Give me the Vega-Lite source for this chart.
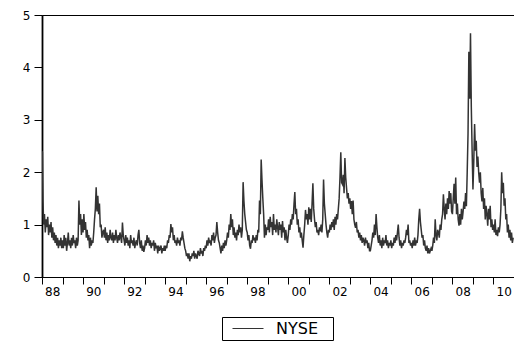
{
  "$schema": "https://vega.github.io/schema/vega-lite/v6.json",
  "width": 472,
  "height": 262,
  "autosize": "none",
  "padding": {"left": 42, "top": 15, "right": 0, "bottom": 65},
  "background": "white",
  "config": {
    "view": {"stroke": "black", "strokeWidth": 1},
    "font": "DejaVu Sans"
  },
  "data": {
    "values": [
      {"t":1988.00,"v":2.4},{"t":1988.02,"v":2.38},{"t":1988.05,"v":1.45},{"t":1988.08,"v":1.0},{"t":1988.12,"v":1.2},{"t":1988.16,"v":0.85},{"t":1988.20,"v":1.1},{"t":1988.24,"v":0.95},{"t":1988.28,"v":1.15},{"t":1988.32,"v":0.8},{"t":1988.36,"v":1.0},{"t":1988.40,"v":0.85},{"t":1988.44,"v":1.05},{"t":1988.48,"v":0.75},{"t":1988.52,"v":0.95},{"t":1988.56,"v":0.7},{"t":1988.60,"v":0.85},{"t":1988.64,"v":0.65},{"t":1988.68,"v":0.8},{"t":1988.72,"v":0.6},{"t":1988.76,"v":0.75},{"t":1988.80,"v":0.55},{"t":1988.84,"v":0.7},{"t":1988.88,"v":0.6},{"t":1988.92,"v":0.75},{"t":1988.96,"v":0.55},
      {"t":1989.00,"v":0.7},{"t":1989.04,"v":0.55},{"t":1989.08,"v":0.8},{"t":1989.12,"v":0.6},{"t":1989.16,"v":0.75},{"t":1989.20,"v":0.5},{"t":1989.24,"v":0.65},{"t":1989.28,"v":0.85},{"t":1989.32,"v":0.6},{"t":1989.36,"v":0.7},{"t":1989.40,"v":0.55},{"t":1989.44,"v":0.75},{"t":1989.48,"v":0.6},{"t":1989.52,"v":0.8},{"t":1989.56,"v":0.65},{"t":1989.60,"v":0.7},{"t":1989.64,"v":0.55},{"t":1989.68,"v":0.75},{"t":1989.72,"v":0.6},{"t":1989.76,"v":0.7},{"t":1989.80,"v":1.46},{"t":1989.84,"v":1.0},{"t":1989.88,"v":1.2},{"t":1989.92,"v":0.8},{"t":1989.96,"v":1.1},
      {"t":1990.00,"v":0.85},{"t":1990.04,"v":1.2},{"t":1990.08,"v":0.9},{"t":1990.12,"v":1.05},{"t":1990.16,"v":0.75},{"t":1990.20,"v":0.9},{"t":1990.24,"v":0.7},{"t":1990.28,"v":0.8},{"t":1990.32,"v":0.55},{"t":1990.36,"v":0.75},{"t":1990.40,"v":0.6},{"t":1990.44,"v":0.7},{"t":1990.48,"v":0.65},{"t":1990.52,"v":0.85},{"t":1990.56,"v":1.1},{"t":1990.60,"v":1.3},{"t":1990.64,"v":1.71},{"t":1990.68,"v":1.25},{"t":1990.72,"v":1.55},{"t":1990.76,"v":1.2},{"t":1990.80,"v":1.4},{"t":1990.84,"v":0.95},{"t":1990.88,"v":1.0},{"t":1990.92,"v":0.75},{"t":1990.96,"v":0.85},
      {"t":1991.00,"v":0.9},{"t":1991.04,"v":0.75},{"t":1991.08,"v":0.95},{"t":1991.12,"v":0.7},{"t":1991.16,"v":0.85},{"t":1991.20,"v":0.65},{"t":1991.24,"v":0.8},{"t":1991.28,"v":0.7},{"t":1991.32,"v":0.9},{"t":1991.36,"v":0.75},{"t":1991.40,"v":0.7},{"t":1991.44,"v":0.85},{"t":1991.48,"v":0.65},{"t":1991.52,"v":0.8},{"t":1991.56,"v":0.7},{"t":1991.60,"v":0.9},{"t":1991.64,"v":0.75},{"t":1991.68,"v":0.65},{"t":1991.72,"v":0.8},{"t":1991.76,"v":0.7},{"t":1991.80,"v":0.85},{"t":1991.84,"v":0.75},{"t":1991.88,"v":0.65},{"t":1991.92,"v":1.04},{"t":1991.96,"v":0.8},
      {"t":1992.00,"v":0.7},{"t":1992.04,"v":0.6},{"t":1992.08,"v":0.8},{"t":1992.12,"v":0.65},{"t":1992.16,"v":0.75},{"t":1992.20,"v":0.6},{"t":1992.24,"v":0.7},{"t":1992.28,"v":0.55},{"t":1992.32,"v":0.8},{"t":1992.36,"v":0.65},{"t":1992.40,"v":0.7},{"t":1992.44,"v":0.6},{"t":1992.48,"v":0.75},{"t":1992.52,"v":0.55},{"t":1992.56,"v":0.65},{"t":1992.60,"v":0.7},{"t":1992.64,"v":0.6},{"t":1992.68,"v":0.8},{"t":1992.72,"v":0.9},{"t":1992.76,"v":0.65},{"t":1992.80,"v":0.55},{"t":1992.84,"v":0.7},{"t":1992.88,"v":0.5},{"t":1992.92,"v":0.6},{"t":1992.96,"v":0.48},
      {"t":1993.00,"v":0.55},{"t":1993.04,"v":0.7},{"t":1993.08,"v":0.6},{"t":1993.12,"v":0.8},{"t":1993.16,"v":0.65},{"t":1993.20,"v":0.75},{"t":1993.24,"v":0.6},{"t":1993.28,"v":0.7},{"t":1993.32,"v":0.55},{"t":1993.36,"v":0.65},{"t":1993.40,"v":0.6},{"t":1993.44,"v":0.7},{"t":1993.48,"v":0.5},{"t":1993.52,"v":0.65},{"t":1993.56,"v":0.55},{"t":1993.60,"v":0.6},{"t":1993.64,"v":0.45},{"t":1993.68,"v":0.6},{"t":1993.72,"v":0.5},{"t":1993.76,"v":0.55},{"t":1993.80,"v":0.6},{"t":1993.84,"v":0.45},{"t":1993.88,"v":0.55},{"t":1993.92,"v":0.5},{"t":1993.96,"v":0.6},
      {"t":1994.00,"v":0.5},{"t":1994.04,"v":0.6},{"t":1994.08,"v":0.55},{"t":1994.12,"v":0.7},{"t":1994.16,"v":0.65},{"t":1994.20,"v":0.8},{"t":1994.24,"v":0.75},{"t":1994.28,"v":1.01},{"t":1994.32,"v":0.85},{"t":1994.36,"v":0.95},{"t":1994.40,"v":0.7},{"t":1994.44,"v":0.8},{"t":1994.48,"v":0.65},{"t":1994.52,"v":0.7},{"t":1994.56,"v":0.6},{"t":1994.60,"v":0.75},{"t":1994.64,"v":0.65},{"t":1994.68,"v":0.7},{"t":1994.72,"v":0.6},{"t":1994.76,"v":0.75},{"t":1994.80,"v":0.7},{"t":1994.84,"v":0.87},{"t":1994.88,"v":0.75},{"t":1994.92,"v":0.65},{"t":1994.96,"v":0.55},
      {"t":1995.00,"v":0.5},{"t":1995.04,"v":0.4},{"t":1995.08,"v":0.45},{"t":1995.12,"v":0.35},{"t":1995.16,"v":0.45},{"t":1995.20,"v":0.3},{"t":1995.24,"v":0.4},{"t":1995.28,"v":0.35},{"t":1995.32,"v":0.45},{"t":1995.36,"v":0.4},{"t":1995.40,"v":0.5},{"t":1995.44,"v":0.35},{"t":1995.48,"v":0.45},{"t":1995.52,"v":0.4},{"t":1995.56,"v":0.35},{"t":1995.60,"v":0.5},{"t":1995.64,"v":0.45},{"t":1995.68,"v":0.4},{"t":1995.72,"v":0.55},{"t":1995.76,"v":0.45},{"t":1995.80,"v":0.5},{"t":1995.84,"v":0.4},{"t":1995.88,"v":0.55},{"t":1995.92,"v":0.5},{"t":1995.96,"v":0.6},
      {"t":1996.00,"v":0.55},{"t":1996.04,"v":0.7},{"t":1996.08,"v":0.6},{"t":1996.12,"v":0.75},{"t":1996.16,"v":0.65},{"t":1996.20,"v":0.7},{"t":1996.24,"v":0.6},{"t":1996.28,"v":0.8},{"t":1996.32,"v":0.7},{"t":1996.36,"v":0.85},{"t":1996.40,"v":0.65},{"t":1996.44,"v":0.75},{"t":1996.48,"v":0.8},{"t":1996.52,"v":1.05},{"t":1996.56,"v":0.85},{"t":1996.60,"v":0.7},{"t":1996.64,"v":0.65},{"t":1996.68,"v":0.55},{"t":1996.72,"v":0.45},{"t":1996.76,"v":0.6},{"t":1996.80,"v":0.5},{"t":1996.84,"v":0.65},{"t":1996.88,"v":0.55},{"t":1996.92,"v":0.7},{"t":1996.96,"v":0.6},
      {"t":1997.00,"v":0.7},{"t":1997.04,"v":0.85},{"t":1997.08,"v":0.75},{"t":1997.12,"v":1.0},{"t":1997.16,"v":0.9},{"t":1997.20,"v":1.2},{"t":1997.24,"v":0.95},{"t":1997.28,"v":1.1},{"t":1997.32,"v":0.8},{"t":1997.36,"v":0.95},{"t":1997.40,"v":0.75},{"t":1997.44,"v":0.85},{"t":1997.48,"v":0.7},{"t":1997.52,"v":0.9},{"t":1997.56,"v":0.8},{"t":1997.60,"v":1.0},{"t":1997.64,"v":0.85},{"t":1997.68,"v":0.95},{"t":1997.72,"v":0.75},{"t":1997.76,"v":0.9},{"t":1997.80,"v":1.81},{"t":1997.84,"v":1.45},{"t":1997.88,"v":1.2},{"t":1997.92,"v":1.05},{"t":1997.96,"v":0.9},
      {"t":1998.00,"v":0.85},{"t":1998.04,"v":0.7},{"t":1998.08,"v":0.8},{"t":1998.12,"v":0.6},{"t":1998.16,"v":0.54},{"t":1998.20,"v":0.7},{"t":1998.24,"v":0.65},{"t":1998.28,"v":0.8},{"t":1998.32,"v":0.7},{"t":1998.36,"v":0.75},{"t":1998.40,"v":0.65},{"t":1998.44,"v":0.8},{"t":1998.48,"v":0.7},{"t":1998.52,"v":0.9},{"t":1998.56,"v":0.85},{"t":1998.60,"v":1.46},{"t":1998.64,"v":1.2},{"t":1998.68,"v":2.24},{"t":1998.72,"v":1.85},{"t":1998.76,"v":1.5},{"t":1998.80,"v":1.2},{"t":1998.84,"v":0.75},{"t":1998.88,"v":1.0},{"t":1998.92,"v":0.8},{"t":1998.96,"v":0.95},
      {"t":1999.00,"v":0.9},{"t":1999.04,"v":1.1},{"t":1999.08,"v":0.85},{"t":1999.12,"v":1.15},{"t":1999.16,"v":0.95},{"t":1999.20,"v":1.05},{"t":1999.24,"v":0.8},{"t":1999.28,"v":1.2},{"t":1999.32,"v":0.9},{"t":1999.36,"v":1.0},{"t":1999.40,"v":0.85},{"t":1999.44,"v":1.1},{"t":1999.48,"v":0.95},{"t":1999.52,"v":0.8},{"t":1999.56,"v":1.05},{"t":1999.60,"v":0.9},{"t":1999.64,"v":1.0},{"t":1999.68,"v":0.75},{"t":1999.72,"v":1.07},{"t":1999.76,"v":0.85},{"t":1999.80,"v":0.95},{"t":1999.84,"v":0.7},{"t":1999.88,"v":0.9},{"t":1999.92,"v":0.75},{"t":1999.96,"v":0.65},
      {"t":2000.00,"v":0.8},{"t":2000.04,"v":1.0},{"t":2000.08,"v":0.9},{"t":2000.12,"v":1.1},{"t":2000.16,"v":1.0},{"t":2000.20,"v":1.2},{"t":2000.24,"v":1.1},{"t":2000.28,"v":1.39},{"t":2000.32,"v":1.62},{"t":2000.36,"v":1.2},{"t":2000.40,"v":1.3},{"t":2000.44,"v":1.0},{"t":2000.48,"v":1.1},{"t":2000.52,"v":0.85},{"t":2000.56,"v":0.95},{"t":2000.60,"v":0.75},{"t":2000.64,"v":0.85},{"t":2000.68,"v":0.7},{"t":2000.72,"v":0.56},{"t":2000.76,"v":0.8},{"t":2000.80,"v":1.0},{"t":2000.84,"v":1.28},{"t":2000.88,"v":1.1},{"t":2000.92,"v":1.2},{"t":2000.96,"v":1.0},
      {"t":2001.00,"v":1.33},{"t":2001.04,"v":1.1},{"t":2001.08,"v":1.3},{"t":2001.12,"v":1.05},{"t":2001.16,"v":1.4},{"t":2001.20,"v":1.79},{"t":2001.24,"v":1.3},{"t":2001.28,"v":1.1},{"t":2001.32,"v":0.95},{"t":2001.36,"v":1.05},{"t":2001.40,"v":0.85},{"t":2001.44,"v":0.9},{"t":2001.48,"v":0.8},{"t":2001.52,"v":0.95},{"t":2001.56,"v":0.87},{"t":2001.60,"v":1.0},{"t":2001.64,"v":0.85},{"t":2001.68,"v":1.1},{"t":2001.72,"v":1.86},{"t":2001.76,"v":1.4},{"t":2001.80,"v":1.2},{"t":2001.84,"v":1.0},{"t":2001.88,"v":0.85},{"t":2001.92,"v":0.75},{"t":2001.96,"v":0.9},
      {"t":2002.00,"v":0.85},{"t":2002.04,"v":1.0},{"t":2002.08,"v":0.9},{"t":2002.12,"v":1.05},{"t":2002.16,"v":0.95},{"t":2002.20,"v":1.1},{"t":2002.24,"v":0.9},{"t":2002.28,"v":1.15},{"t":2002.32,"v":1.0},{"t":2002.36,"v":1.2},{"t":2002.40,"v":1.1},{"t":2002.44,"v":1.3},{"t":2002.48,"v":1.5},{"t":2002.52,"v":1.9},{"t":2002.56,"v":2.38},{"t":2002.60,"v":1.8},{"t":2002.64,"v":1.77},{"t":2002.68,"v":1.95},{"t":2002.72,"v":1.6},{"t":2002.76,"v":2.27},{"t":2002.80,"v":1.9},{"t":2002.84,"v":1.7},{"t":2002.88,"v":1.5},{"t":2002.92,"v":1.6},{"t":2002.96,"v":1.4},
      {"t":2003.00,"v":1.5},{"t":2003.04,"v":1.3},{"t":2003.08,"v":1.45},{"t":2003.12,"v":1.2},{"t":2003.16,"v":1.46},{"t":2003.20,"v":1.1},{"t":2003.24,"v":1.0},{"t":2003.28,"v":0.94},{"t":2003.32,"v":1.05},{"t":2003.36,"v":0.85},{"t":2003.40,"v":0.9},{"t":2003.44,"v":0.75},{"t":2003.48,"v":0.85},{"t":2003.52,"v":0.7},{"t":2003.56,"v":0.8},{"t":2003.60,"v":0.65},{"t":2003.64,"v":0.75},{"t":2003.68,"v":0.7},{"t":2003.72,"v":0.6},{"t":2003.76,"v":0.75},{"t":2003.80,"v":0.65},{"t":2003.84,"v":0.7},{"t":2003.88,"v":0.55},{"t":2003.92,"v":0.65},{"t":2003.96,"v":0.5},
      {"t":2004.00,"v":0.5},{"t":2004.04,"v":0.6},{"t":2004.08,"v":0.7},{"t":2004.12,"v":0.85},{"t":2004.16,"v":0.75},{"t":2004.20,"v":1.0},{"t":2004.24,"v":0.8},{"t":2004.28,"v":1.2},{"t":2004.32,"v":0.95},{"t":2004.36,"v":0.75},{"t":2004.40,"v":0.65},{"t":2004.44,"v":0.8},{"t":2004.48,"v":0.6},{"t":2004.52,"v":0.7},{"t":2004.56,"v":0.55},{"t":2004.60,"v":0.75},{"t":2004.64,"v":0.6},{"t":2004.68,"v":0.7},{"t":2004.72,"v":0.65},{"t":2004.76,"v":0.8},{"t":2004.80,"v":0.6},{"t":2004.84,"v":0.7},{"t":2004.88,"v":0.55},{"t":2004.92,"v":0.65},{"t":2004.96,"v":0.6},
      {"t":2005.00,"v":0.7},{"t":2005.04,"v":0.55},{"t":2005.08,"v":0.65},{"t":2005.12,"v":0.6},{"t":2005.16,"v":0.75},{"t":2005.20,"v":0.65},{"t":2005.24,"v":0.8},{"t":2005.28,"v":0.7},{"t":2005.32,"v":0.85},{"t":2005.36,"v":1.0},{"t":2005.40,"v":0.75},{"t":2005.44,"v":0.6},{"t":2005.48,"v":0.7},{"t":2005.52,"v":0.55},{"t":2005.56,"v":0.65},{"t":2005.60,"v":0.6},{"t":2005.64,"v":0.7},{"t":2005.68,"v":0.65},{"t":2005.72,"v":0.75},{"t":2005.76,"v":0.9},{"t":2005.80,"v":0.8},{"t":2005.84,"v":1.0},{"t":2005.88,"v":0.65},{"t":2005.92,"v":0.7},{"t":2005.96,"v":0.6},
      {"t":2006.00,"v":0.65},{"t":2006.04,"v":0.55},{"t":2006.08,"v":0.7},{"t":2006.12,"v":0.6},{"t":2006.16,"v":0.75},{"t":2006.20,"v":0.6},{"t":2006.24,"v":0.7},{"t":2006.28,"v":0.65},{"t":2006.32,"v":0.8},{"t":2006.36,"v":1.1},{"t":2006.40,"v":1.3},{"t":2006.44,"v":1.05},{"t":2006.48,"v":0.9},{"t":2006.52,"v":0.75},{"t":2006.56,"v":0.8},{"t":2006.60,"v":0.6},{"t":2006.64,"v":0.7},{"t":2006.68,"v":0.55},{"t":2006.72,"v":0.5},{"t":2006.76,"v":0.6},{"t":2006.80,"v":0.45},{"t":2006.84,"v":0.55},{"t":2006.88,"v":0.45},{"t":2006.92,"v":0.5},{"t":2006.96,"v":0.55},
      {"t":2007.00,"v":0.5},{"t":2007.04,"v":0.6},{"t":2007.08,"v":0.75},{"t":2007.12,"v":0.65},{"t":2007.16,"v":1.1},{"t":2007.20,"v":0.8},{"t":2007.24,"v":0.7},{"t":2007.28,"v":0.9},{"t":2007.32,"v":0.85},{"t":2007.36,"v":0.75},{"t":2007.40,"v":1.0},{"t":2007.44,"v":0.9},{"t":2007.48,"v":1.1},{"t":2007.52,"v":1.2},{"t":2007.56,"v":1.58},{"t":2007.60,"v":1.3},{"t":2007.64,"v":1.1},{"t":2007.68,"v":1.4},{"t":2007.72,"v":1.2},{"t":2007.76,"v":1.5},{"t":2007.80,"v":1.3},{"t":2007.84,"v":1.64},{"t":2007.88,"v":1.4},{"t":2007.92,"v":1.6},{"t":2007.96,"v":1.25},
      {"t":2008.00,"v":1.2},{"t":2008.04,"v":1.5},{"t":2008.08,"v":1.78},{"t":2008.12,"v":1.4},{"t":2008.16,"v":1.9},{"t":2008.20,"v":1.2},{"t":2008.24,"v":1.4},{"t":2008.28,"v":1.1},{"t":2008.32,"v":0.98},{"t":2008.36,"v":1.2},{"t":2008.40,"v":1.0},{"t":2008.44,"v":1.3},{"t":2008.48,"v":1.1},{"t":2008.52,"v":1.25},{"t":2008.56,"v":1.44},{"t":2008.60,"v":1.3},{"t":2008.64,"v":1.6},{"t":2008.68,"v":1.35},{"t":2008.72,"v":2.0},{"t":2008.76,"v":2.74},{"t":2008.80,"v":4.3},{"t":2008.84,"v":3.4},{"t":2008.88,"v":4.65},{"t":2008.92,"v":3.24},{"t":2008.96,"v":2.4},
      {"t":2009.00,"v":1.67},{"t":2009.04,"v":2.2},{"t":2009.08,"v":2.92},{"t":2009.12,"v":2.41},{"t":2009.16,"v":2.6},{"t":2009.20,"v":2.1},{"t":2009.24,"v":2.3},{"t":2009.28,"v":1.99},{"t":2009.32,"v":1.8},{"t":2009.36,"v":2.0},{"t":2009.40,"v":1.6},{"t":2009.44,"v":1.44},{"t":2009.48,"v":1.7},{"t":2009.52,"v":1.3},{"t":2009.56,"v":1.5},{"t":2009.60,"v":1.1},{"t":2009.64,"v":1.36},{"t":2009.68,"v":1.2},{"t":2009.72,"v":0.98},{"t":2009.76,"v":1.3},{"t":2009.80,"v":1.1},{"t":2009.84,"v":1.36},{"t":2009.88,"v":0.95},{"t":2009.92,"v":1.1},{"t":2009.96,"v":0.9},
      {"t":2010.00,"v":1.0},{"t":2010.04,"v":0.85},{"t":2010.08,"v":1.1},{"t":2010.12,"v":0.8},{"t":2010.16,"v":0.9},{"t":2010.20,"v":0.78},{"t":2010.24,"v":0.95},{"t":2010.28,"v":0.85},{"t":2010.32,"v":1.0},{"t":2010.36,"v":1.3},{"t":2010.40,"v":2.0},{"t":2010.44,"v":1.6},{"t":2010.48,"v":1.8},{"t":2010.52,"v":1.36},{"t":2010.56,"v":1.5},{"t":2010.60,"v":1.1},{"t":2010.64,"v":1.2},{"t":2010.68,"v":0.85},{"t":2010.72,"v":1.0},{"t":2010.76,"v":0.75},{"t":2010.80,"v":0.9},{"t":2010.84,"v":0.7},{"t":2010.88,"v":0.85},{"t":2010.92,"v":0.65},{"t":2010.96,"v":0.75}
    ]
  },
  "mark": {"type": "line", "strokeWidth": 1.5, "clip": true},
  "encoding": {
    "x": {
      "field": "t",
      "type": "quantitative",
      "scale": {"domain": [1988, 2011], "nice": false, "zero": false},
      "axis": {
        "title": null,
        "grid": false,
        "values": [1988,1989,1990,1991,1992,1993,1994,1995,1996,1997,1998,1999,2000,2001,2002,2003,2004,2005,2006,2007,2008,2009,2010],
        "labelExpr": "datum.value % 2 == 0 ? slice('0' + (datum.value % 100), -2) : ''",
        "labelOffset": 10.26,
        "labelOverlap": false,
        "labelFlush": false,
        "labelFont": "DejaVu Sans",
        "labelFontSize": 12,
        "labelColor": "black",
        "labelPadding": 2,
        "tickSize": 7,
        "tickColor": "black",
        "domainColor": "black",
        "domainWidth": 1.2
      }
    },
    "y": {
      "field": "v",
      "type": "quantitative",
      "scale": {"domain": [0, 5], "nice": false},
      "axis": {
        "title": null,
        "grid": false,
        "values": [0, 1, 2, 3, 4, 5],
        "labelFont": "DejaVu Sans",
        "labelFontSize": 12,
        "labelColor": "black",
        "labelPadding": 4,
        "tickSize": 8,
        "tickColor": "black",
        "domainColor": "black",
        "domainWidth": 1.8
      }
    },
    "color": {
      "datum": "NYSE",
      "type": "nominal",
      "scale": {"range": ["#333333"]},
      "legend": {
        "title": null,
        "orient": "none",
        "legendX": 180,
        "legendY": 302,
        "strokeColor": "black",
        "padding": 3,
        "symbolType": "M-0.125,0H3.75",
        "symbolSize": 256,
        "symbolStrokeWidth": 1,
        "symbolStrokeColor": "#555555",
        "labelFont": "DejaVu Sans",
        "labelFontSize": 16,
        "labelColor": "black",
        "labelOffset": 34,
        "labelExpr": "datum.label + '\u2800'"
      }
    }
  }
}
